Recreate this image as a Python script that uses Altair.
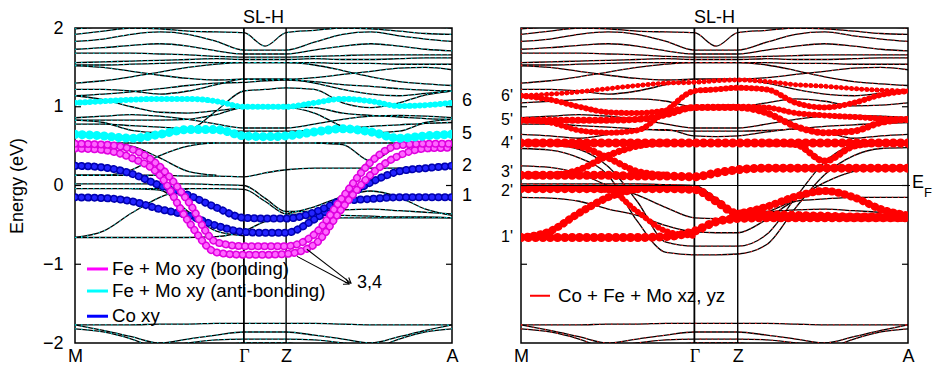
import math
import altair as alt
import pandas as pd

# ---------------- data ----------------
K = [0, 0.075, 0.15, 0.225, 0.3, 0.375, 0.448, 0.504, 0.56, 0.635, 0.71, 0.785, 0.86, 0.93, 1.0]
K_TICKS = [0, 0.448, 0.56, 1.0]
K_LABELS = ["M", "Γ", "Z", "A"]
N = None
PANEL_TITLE = "SL-H"

# bands drawn only in black
T1 = [1.99, 2.02, 2.06, 2.08, 2.1, 2.1, 2.08, 2.05, 2.08, 2.1, 2.1, 2.08, 2.05, 2.02, 2.0]
T2 = [1.92, 1.96, 2.0, 1.99, 1.96, 1.95, 1.94, 1.77, 1.94, 1.97, 2.0, 1.99, 1.96, 1.93, 1.92]
T3 = [1.83, 1.86, 1.92, 1.95, 1.92, 1.83, 1.72, 1.72, 1.72, 1.82, 1.92, 1.95, 1.9, 1.86, 1.83]
T4 = [1.73, 1.75, 1.78, 1.8, 1.77, 1.71, 1.67, 1.67, 1.67, 1.72, 1.77, 1.8, 1.77, 1.73, 1.71]
T5 = [1.68, 1.68, 1.68, 1.67, 1.66, 1.64, 1.63, 1.63, 1.63, 1.64, 1.65, 1.66, 1.66, 1.66, 1.66]
T6 = [1.56, 1.57, 1.58, 1.59, 1.6, 1.61, 1.6, 1.6, 1.6, 1.61, 1.6, 1.6, 1.61, 1.62, 1.62]
T7 = [1.53, 1.53, 1.54, 1.55, 1.56, 1.56, 1.56, 1.56, 1.56, 1.56, 1.55, 1.55, 1.54, 1.54, 1.54]
T8 = [1.52, 1.5, 1.45, 1.4, 1.36, 1.34, 1.35, 1.35, 1.35, 1.37, 1.41, 1.45, 1.49, 1.5, 1.47]
M1 = [1.3, 1.33, 1.38, 1.44, 1.5, 1.54, 1.56, 1.56, 1.56, 1.53, 1.46, 1.38, 1.32, 1.29, 1.27]
M2 = [1.22, 1.22, 1.2, 1.16, 1.2, 1.28, 1.35, 1.35, 1.35, 1.3, 1.22, 1.16, 1.14, 1.17, 1.2]
N2 = [0.86, 0.88, 0.9, 0.88, 0.84, 0.78, 0.73, 0.73, 0.73, 0.78, 0.84, 0.88, 0.89, 0.88, 0.86]
N3 = [0.78, 0.78, 0.76, 0.74, 0.72, 0.7, 0.69, 0.69, 0.69, 0.7, 0.72, 0.75, 0.77, 0.79, 0.8]
N1 = [0.02, 0.02, 0.02, 0.02, 0.02, 0.01, 0.0, -0.16, -0.33, -0.33, -0.31, -0.3, -0.32, -0.34, -0.36]
B1 = [-1.77, -1.77, -1.77, -1.76, -1.76, -1.75, -1.75, -1.75, -1.75, -1.75, -1.76, -1.77, -1.77, -1.77, -1.77]
B2 = [-1.77, -1.84, -1.92, -2.0, -1.95, -1.9, -1.86, -1.86, -1.86, -1.9, -1.95, -2.0, -1.92, -1.84, -1.77]
B3 = [-1.82, -1.86, -1.95, -2.08, -2.12, -2.05, -2.0, -2.0, -2.0, -2.05, -2.12, -2.08, -1.95, -1.86, -1.82]
B4 = [-2.2, -2.18, -2.12, -2.06, -2.0, -1.96, -1.95, -1.95, -1.95, -1.96, -2.0, -2.06, -2.12, -2.18, -2.2]

# fat bands, left panel
CYAN6 = [1.05, 1.07, 1.09, 1.1, 1.1, 1.07, 1.0, 1.0, 1.0, 1.05, 1.1, 1.07, 1.01, 1.02, 1.05]
CYAN5 = [0.65, 0.63, 0.6, 0.65, 0.71, 0.71, 0.63, 0.62, 0.63, 0.68, 0.72, 0.68, 0.6, 0.63, 0.65]
MAG3 = [0.53, 0.52, 0.46, 0.24, -0.2, -0.72, -0.77, -0.77, -0.77, -0.62, -0.15, 0.3, 0.51, 0.53, 0.53]
MAG4 = [0.47, 0.45, 0.35, 0.13, -0.45, -0.85, -0.88, -0.88, -0.87, -0.75, -0.28, 0.14, 0.38, 0.47, 0.48]
BLUE2 = [0.25, 0.23, 0.15, 0.0, -0.12, -0.28, -0.41, -0.42, -0.42, -0.34, -0.17, 0.04, 0.18, 0.22, 0.25]
BLUE1 = [-0.15, -0.16, -0.2, -0.3, -0.38, -0.51, -0.59, -0.6, -0.6, -0.43, -0.2, -0.17, -0.15, -0.15, -0.15]

# fat bands, right panel
RA = [1.14, 1.16, 1.19, 1.23, 1.27, 1.3, 1.31, 1.33, 1.34, 1.32, 1.28, 1.26, 1.23, 1.21, 1.2]
RB = [1.14, 1.09, 1.0, 0.93, 0.92, 0.95, 0.99, 1.0, 1.0, 0.99, 0.92, 0.89, 0.87, 0.85, 0.84]
RC = [0.83, 0.8, 0.7, 0.67, 0.7, 0.95, 1.2, 1.22, 1.24, 1.22, 1.05, 0.99, 1.05, 1.15, 1.2]
RD = [0.83, 0.83, 0.83, 0.83, 0.84, 0.9, 0.99, 0.99, 0.99, 0.92, 0.75, 0.67, 0.69, 0.8, 0.84]
R4 = [0.54, 0.54, 0.54, 0.54, 0.54, 0.54, 0.54, 0.54, 0.54, 0.54, 0.54, 0.54, 0.54, 0.54, 0.54]
X1 = [0.54, 0.54, 0.5, 0.35, 0.18, 0.13, N, N, N, N, N, N, N, N, N]
X2 = [0.13, 0.13, 0.2, 0.38, 0.5, 0.54, N, N, N, N, N, N, N, N, N]
X3 = [N, N, N, N, N, N, N, N, N, 0.54, 0.52, 0.31, 0.5, 0.54, N]
R3 = [0.13, 0.13, 0.13, 0.13, 0.12, 0.12, 0.11, 0.16, 0.2, 0.22, 0.22, 0.22, 0.22, 0.22, 0.22]
R2 = [-0.04, -0.04, -0.04, -0.04, -0.04, -0.04, -0.05, -0.2, -0.36, -0.37, -0.38, -0.39, -0.4, -0.4, -0.41]
R1 = [-0.66, -0.66, -0.66, -0.66, -0.66, -0.65, -0.58, -0.46, -0.42, -0.41, -0.41, -0.41, -0.41, -0.41, -0.41]
Y1 = [-0.66, -0.58, -0.35, -0.15, -0.04, N, N, N, N, N, N, N, N, N, N]
Y2 = [N, N, -0.04, -0.06, -0.33, -0.58, -0.64, N, N, N, N, N, N, N, N]
Y3 = [N, N, N, N, N, N, N, N, -0.36, -0.27, -0.14, -0.07, -0.15, -0.3, -0.38]

LEFT_LABELS = ["6", "5", "2", "1"]
LEFT_LABEL_E = [1.07, 0.65, 0.25, -0.13]
RIGHT_LABELS = ["6'", "5'", "4'", "3'", "2'", "1'"]
RIGHT_LABEL_E = [1.14, 0.83, 0.54, 0.17, -0.07, -0.66]

LEG_LEFT_TEXT = ["Fe + Mo xy (bonding)", "Fe + Mo xy (anti-bonding)", "Co xy"]
LEG_LEFT_E = [-1.06, -1.34, -1.66]
LEG_RIGHT_TEXT = ["Co + Fe + Mo xz, yz"]
LEG_RIGHT_E = [-1.40]

ARROW_K0 = [0.615, 0.589]
ARROW_E0 = [-0.81, -0.90]
ARROW_K1 = [0.732, 0.727]
ARROW_E1 = [-1.24, -1.25]
ARROW_TEXT = "3,4"
ARROW_TEXT_K = 0.748
ARROW_TEXT_E = -1.24

TICK_E = [-1, 0, 1]

# ---------------- styles ----------------
W_L, W_R, H = 377, 387, 315
FONT = "Liberation Sans"
FS = 18
FS_LEG = 18.7
BLACK_ONLY = {"T1": T1, "T2": T2, "T3": T3, "T4": T4, "T5": T5, "T6": T6, "T7": T7, "T8": T8,
              "M1": M1, "M2": M2, "N1": N1, "N2": N2, "N3": N3, "B1": B1, "B2": B2, "B3": B3, "B4": B4}
FAT_L = {"BLUE1": BLUE1, "BLUE2": BLUE2, "MAG4": MAG4, "MAG3": MAG3, "CYAN5": CYAN5, "CYAN6": CYAN6}
FAT_R = {"RA": RA, "RB": RB, "RC": RC, "RD": RD, "R4": R4, "X1": X1, "X2": X2, "X3": X3,
         "R3": R3, "R2": R2, "R1": R1, "Y1": Y1, "Y2": Y2, "Y3": Y3}
STYLE_L = {  # outer colour, inner colour, width
    "BLUE1": ("#0000b0", "#2424ff", 8), "BLUE2": ("#0000b0", "#2424ff", 8),
    "MAG4": ("#e000e0", "#ff66ff", 8), "MAG3": ("#e000e0", "#ff66ff", 8),
    "CYAN5": ("#00ffff", None, 9), "CYAN6": ("#00ffff", None, 6),
}
STYLE_R = {"RA": 5, "RB": 6, "RC": 6, "RD": 7, "R4": 9, "X1": 7, "X2": 7, "X3": 7,
           "R3": 9, "R2": 9, "R1": 9, "Y1": 8, "Y2": 6, "Y3": 8}


def dots_for(w):
    return [0.1, max(5.0, w * 0.8)]


def band_df(bands):
    rows = []
    for name, vals in bands.items():
        for k, e in zip(K, vals):
            if e is not None:
                rows.append({"band": name, "k": k, "E": e})
    return pd.DataFrame(rows)


ALL = {**BLACK_ONLY, **FAT_L, **FAT_R}
all_df = band_df(ALL)

label_expr = " : ".join(f"abs(datum.value - {v}) < 0.01 ? '{l}'" for v, l in zip(K_TICKS, K_LABELS)) + " : ''"
x_axis = alt.Axis(values=K_TICKS, labelExpr=label_expr, tickSize=0, domain=False, grid=False,
                  labelFontSize=FS, labelPadding=4, title=None, labelFlush=False,
                  labelFont={"condition": {"test": "abs(datum.value - 0.448) < 0.01", "value": "Liberation Serif"},
                             "value": FONT})
XS = alt.Scale(domain=[0, 1], nice=False, zero=False)
X = alt.X("k:Q", scale=XS, axis=x_axis)
YS = alt.Scale(domain=[-2, 2], nice=False, zero=False)
y_axis_l = alt.Axis(values=[-2, -1, 0, 1, 2], format="d", tickSize=0, domain=False, grid=False,
                    labelFontSize=FS, labelPadding=12, title="Energy (eV)", titleFontSize=FS,
                    titleFontWeight="normal", titlePadding=16, titleFont=FONT)
YL = alt.Y("E:Q", scale=YS, axis=y_axis_l)
YR = alt.Y("E:Q", scale=YS, axis=None)


def panel(width, Y, fat_layers, speck_color, extra):
    base = alt.Chart(all_df)
    lines = base.mark_line(color="black", strokeWidth=1.3, interpolate="monotone", clip=True).encode(
        x=X, y=Y, detail="band:N")
    specks = base.mark_line(color=speck_color, strokeWidth=1, strokeDash=[1.5, 4.5],
                            interpolate="monotone", clip=True).encode(x=X, y=Y, detail="band:N")
    sym = pd.DataFrame({"k": [K_TICKS[1], K_TICKS[2]], "w": [1.8, 1.4]})
    vlines = alt.Chart(sym).mark_rule(color="black").encode(
        x=X, strokeWidth=alt.StrokeWidth("w:Q", scale=None))
    tdf = pd.DataFrame({"E": TICK_E})
    tl = alt.Chart(tdf).mark_rule(color="black", strokeWidth=1.2).encode(
        x=alt.value(0), x2=alt.value(6), y=Y)
    tr = alt.Chart(tdf).mark_rule(color="black", strokeWidth=1.2).encode(
        x=alt.value(width - 6), x2=alt.value(width), y=Y)
    title = alt.Chart(pd.DataFrame({"t": [PANEL_TITLE]})).mark_text(
        align="center", baseline="middle", fontSize=FS, font=FONT).encode(
        x=alt.value(width / 2), y=alt.value(-10), text="t:N")
    layers = [lines, specks, vlines] + fat_layers + [tl, tr] + extra + [title]
    return alt.layer(*layers).properties(width=width, height=H)


def fat_layer(names, color, inner, width, Y):
    layers = []
    d = band_df({n: FAT_L.get(n, FAT_R.get(n)) for n in names})
    dash = dots_for(width)
    for c, w in ((color, width), (inner, width - 3)):
        if c is None or w <= 0:
            continue
        layers.append(alt.Chart(d).mark_line(color=c, strokeWidth=w, strokeDash=dash, strokeCap="round",
                                             interpolate="monotone", clip=True).encode(
            x=X, y=Y, detail="band:N"))
    return layers


# left panel fat bands
left_fat = []
for n in ["BLUE1", "BLUE2", "MAG4", "MAG3", "CYAN5", "CYAN6"]:
    oc, ic, w = STYLE_L[n]
    left_fat += fat_layer([n], oc, ic, w, YL)

# left extras
ldf = pd.DataFrame({"t": LEFT_LABELS, "E": LEFT_LABEL_E})
left_lab = alt.Chart(ldf).mark_text(align="left", baseline="middle", fontSize=FS, font=FONT).encode(
    x=alt.value(W_L + 10), y=YL, text="t:N")
legL = pd.DataFrame({"t": LEG_LEFT_TEXT, "E": LEG_LEFT_E, "c": ["#ff00ff", "#00ffff", "#0000ff"]})
legL_lines = alt.Chart(legL).mark_rule(strokeWidth=3).encode(
    x=alt.value(12), x2=alt.value(33), y=YL, color=alt.Color("c:N", scale=None))
legL_text = alt.Chart(legL).mark_text(align="left", baseline="middle", fontSize=FS_LEG, font=FONT).encode(
    x=alt.value(37), y=YL, text="t:N")
arr = pd.DataFrame({"k": ARROW_K0, "E": ARROW_E0, "k2": ARROW_K1, "E2": ARROW_E1})
arr_lines = alt.Chart(arr).mark_rule(color="black", strokeWidth=1.1).encode(x=X, y=YL, x2="k2:Q", y2="E2:Q")
heads = pd.DataFrame({"k": ARROW_K1, "E": ARROW_E1})
heads["ang"] = [math.degrees(math.atan2(-(e1 - e0) * H / 4.0, (k1 - k0) * W_L))
                for k0, e0, k1, e1 in zip(ARROW_K0, ARROW_E0, ARROW_K1, ARROW_E1)]
arr_heads = alt.Chart(heads).mark_point(shape="M-1,-0.6L0,0L-1,0.6", filled=False, size=110, color="black",
                                        strokeWidth=1.1, opacity=1).encode(
    x=X, y=YL, angle=alt.Angle("ang:Q", scale=None))
arr_text = alt.Chart(pd.DataFrame({"t": [ARROW_TEXT], "k": [ARROW_TEXT_K], "E": [ARROW_TEXT_E]})).mark_text(
    align="left", baseline="middle", fontSize=FS, font=FONT).encode(x=X, y=YL, text="t:N")

left = panel(W_L, YL, left_fat, "#00dede",
             [legL_lines, legL_text, arr_lines, arr_heads, arr_text, left_lab])

# right panel
right_fat = []
for n in ["R1", "Y1", "Y2", "R2", "Y3", "R3", "X1", "X2", "X3", "R4", "RD", "RC", "RB", "RA"]:
    right_fat += fat_layer([n], "#ff0000", None, STYLE_R[n], YR)

rdf = pd.DataFrame({"t": RIGHT_LABELS, "E": RIGHT_LABEL_E})
right_lab = alt.Chart(rdf).mark_text(align="right", baseline="middle", fontSize=16, font=FONT).encode(
    x=alt.value(-8), y=YR, text="t:N")
ef_line = alt.Chart(pd.DataFrame({"E": [0.0]})).mark_rule(color="black", strokeWidth=1.2).encode(
    x=alt.value(0), x2=alt.value(W_R + 2), y=YR)
ef_e = alt.Chart(pd.DataFrame({"t": ["E"], "E": [0.03]})).mark_text(
    align="left", baseline="middle", fontSize=FS, font=FONT).encode(x=alt.value(W_R + 4), y=YR, text="t:N")
ef_f = alt.Chart(pd.DataFrame({"t": ["F"], "E": [-0.1]})).mark_text(
    align="left", baseline="middle", fontSize=13, font=FONT).encode(x=alt.value(W_R + 16), y=YR, text="t:N")
legR = pd.DataFrame({"t": LEG_RIGHT_TEXT, "E": LEG_RIGHT_E})
legR_line = alt.Chart(legR).mark_rule(strokeWidth=2, color="#ff0000").encode(
    x=alt.value(9), x2=alt.value(29), y=YR)
legR_text = alt.Chart(legR).mark_text(align="left", baseline="middle", fontSize=FS_LEG, font=FONT).encode(
    x=alt.value(37), y=YR, text="t:N")

right = panel(W_R, YR, right_fat, "#ff2020",
              [ef_line, legR_line, legR_text, right_lab, ef_e, ef_f])

chart = alt.hconcat(left, right, spacing=27).properties(
    padding={"left": -1, "top": 0, "right": 0, "bottom": 0}
).configure_view(stroke="black", strokeWidth=1.5).configure_axis(
    labelFont=FONT, titleFont=FONT, labelColor="black", titleColor="black"
).configure_text(font=FONT)

chart.save("out.html", embed_options={"renderer": "svg", "actions": False})
